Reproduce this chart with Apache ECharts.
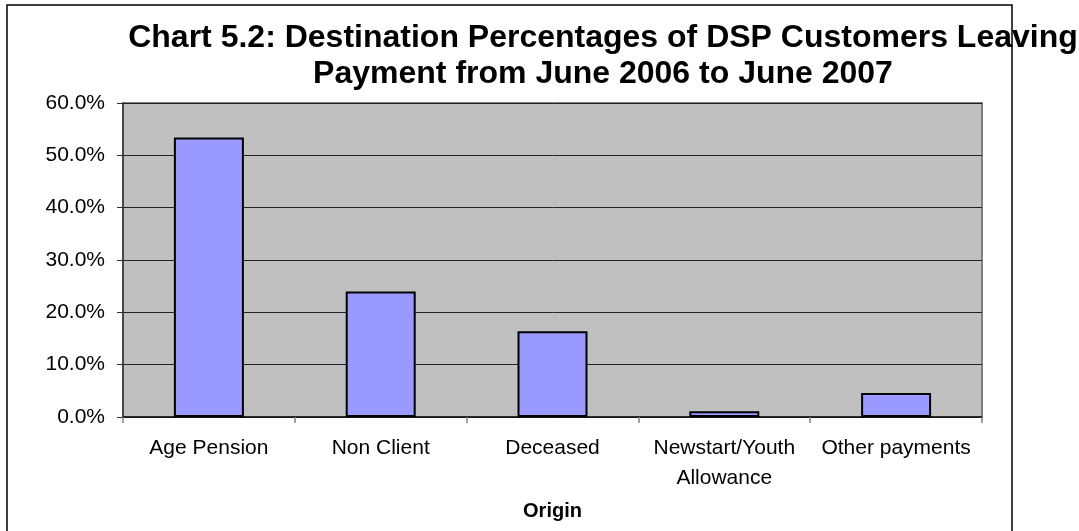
<!DOCTYPE html>
<html>
<head>
<meta charset="utf-8">
<style>
  html, body { margin: 0; padding: 0; background: #fff; }
  #chart { width: 1079px; height: 531px; }
</style>
<script src="https://cdn.jsdelivr.net/npm/echarts@6/dist/echarts.min.js"></script>
</head>
<body>
<div id="chart"></div>
<script>
// data
const categories = ['Age Pension', 'Non Client', 'Deceased', 'Newstart/Youth\nAllowance', 'Other payments'];
const percentages = [53.4, 24.0, 16.4, 1.1, 4.6];
const yTicks = { min: 0, max: 60, interval: 10 };

const chart = echarts.init(document.getElementById('chart'));
const font = "'Liberation Sans', Arial, sans-serif";

const option = {
    animation: false,
    backgroundColor: '#fff',
    title: {
        text: 'Chart 5.2: Destination Percentages of DSP Customers Leaving\nPayment from June 2006 to June 2007',
        left: 598,
        top: 15,
        padding: 5,
        textAlign: 'center',
        textStyle: {
            fontFamily: font,
            fontSize: 32,
            fontWeight: 'bold',
            lineHeight: 36,
            color: '#000'
        }
    },
    // outer frame of the chart (bottom edge is off the picture)
    graphic: [{
        type: 'rect',
        shape: { x: 7, y: 5, width: 1005, height: 560 },
        style: { fill: 'none', stroke: '#000', lineWidth: 1.5 },
        z: -1
    }],
    grid: {
        left: 123,
        top: 103,
        right: 97,
        bottom: 114,
        show: true,
        backgroundColor: '#C0C0C0',
        borderColor: '#808080',
        borderWidth: 2
    },
    xAxis: {
        type: 'category',
        data: categories,
        name: 'Origin',
        nameLocation: 'middle',
        nameGap: 84,
        nameTextStyle: { fontFamily: font, fontSize: 20, fontWeight: 'bold', color: '#000' },
        axisLine: { lineStyle: { color: '#111', width: 1.5 } },
        axisTick: { show: true, alignWithLabel: false, length: 6, lineStyle: { color: '#808080', width: 1.5 } },
        axisLabel: {
            interval: 0,
            margin: 16,
            fontFamily: font,
            fontSize: 21,
            lineHeight: 30,
            color: '#000'
        }
    },
    yAxis: {
        type: 'value',
        min: yTicks.min,
        max: yTicks.max,
        interval: yTicks.interval,
        axisLine: { show: true, lineStyle: { color: '#333', width: 1.5 } },
        axisTick: { show: true, length: 6, lineStyle: { color: '#333' } },
        splitLine: { lineStyle: { color: '#222', width: 1 } },
        axisLabel: {
            margin: 18,
            fontFamily: font,
            fontSize: 21,
            color: '#000',
            formatter: function (v) { return v.toFixed(1) + '%'; }
        }
    },
    series: [{
        type: 'bar',
        data: percentages,
        barWidth: 70,
        itemStyle: { color: '#9999FF', borderColor: '#000', borderWidth: 2 }
    }]
};

chart.setOption(option);
</script>
</body>
</html>
